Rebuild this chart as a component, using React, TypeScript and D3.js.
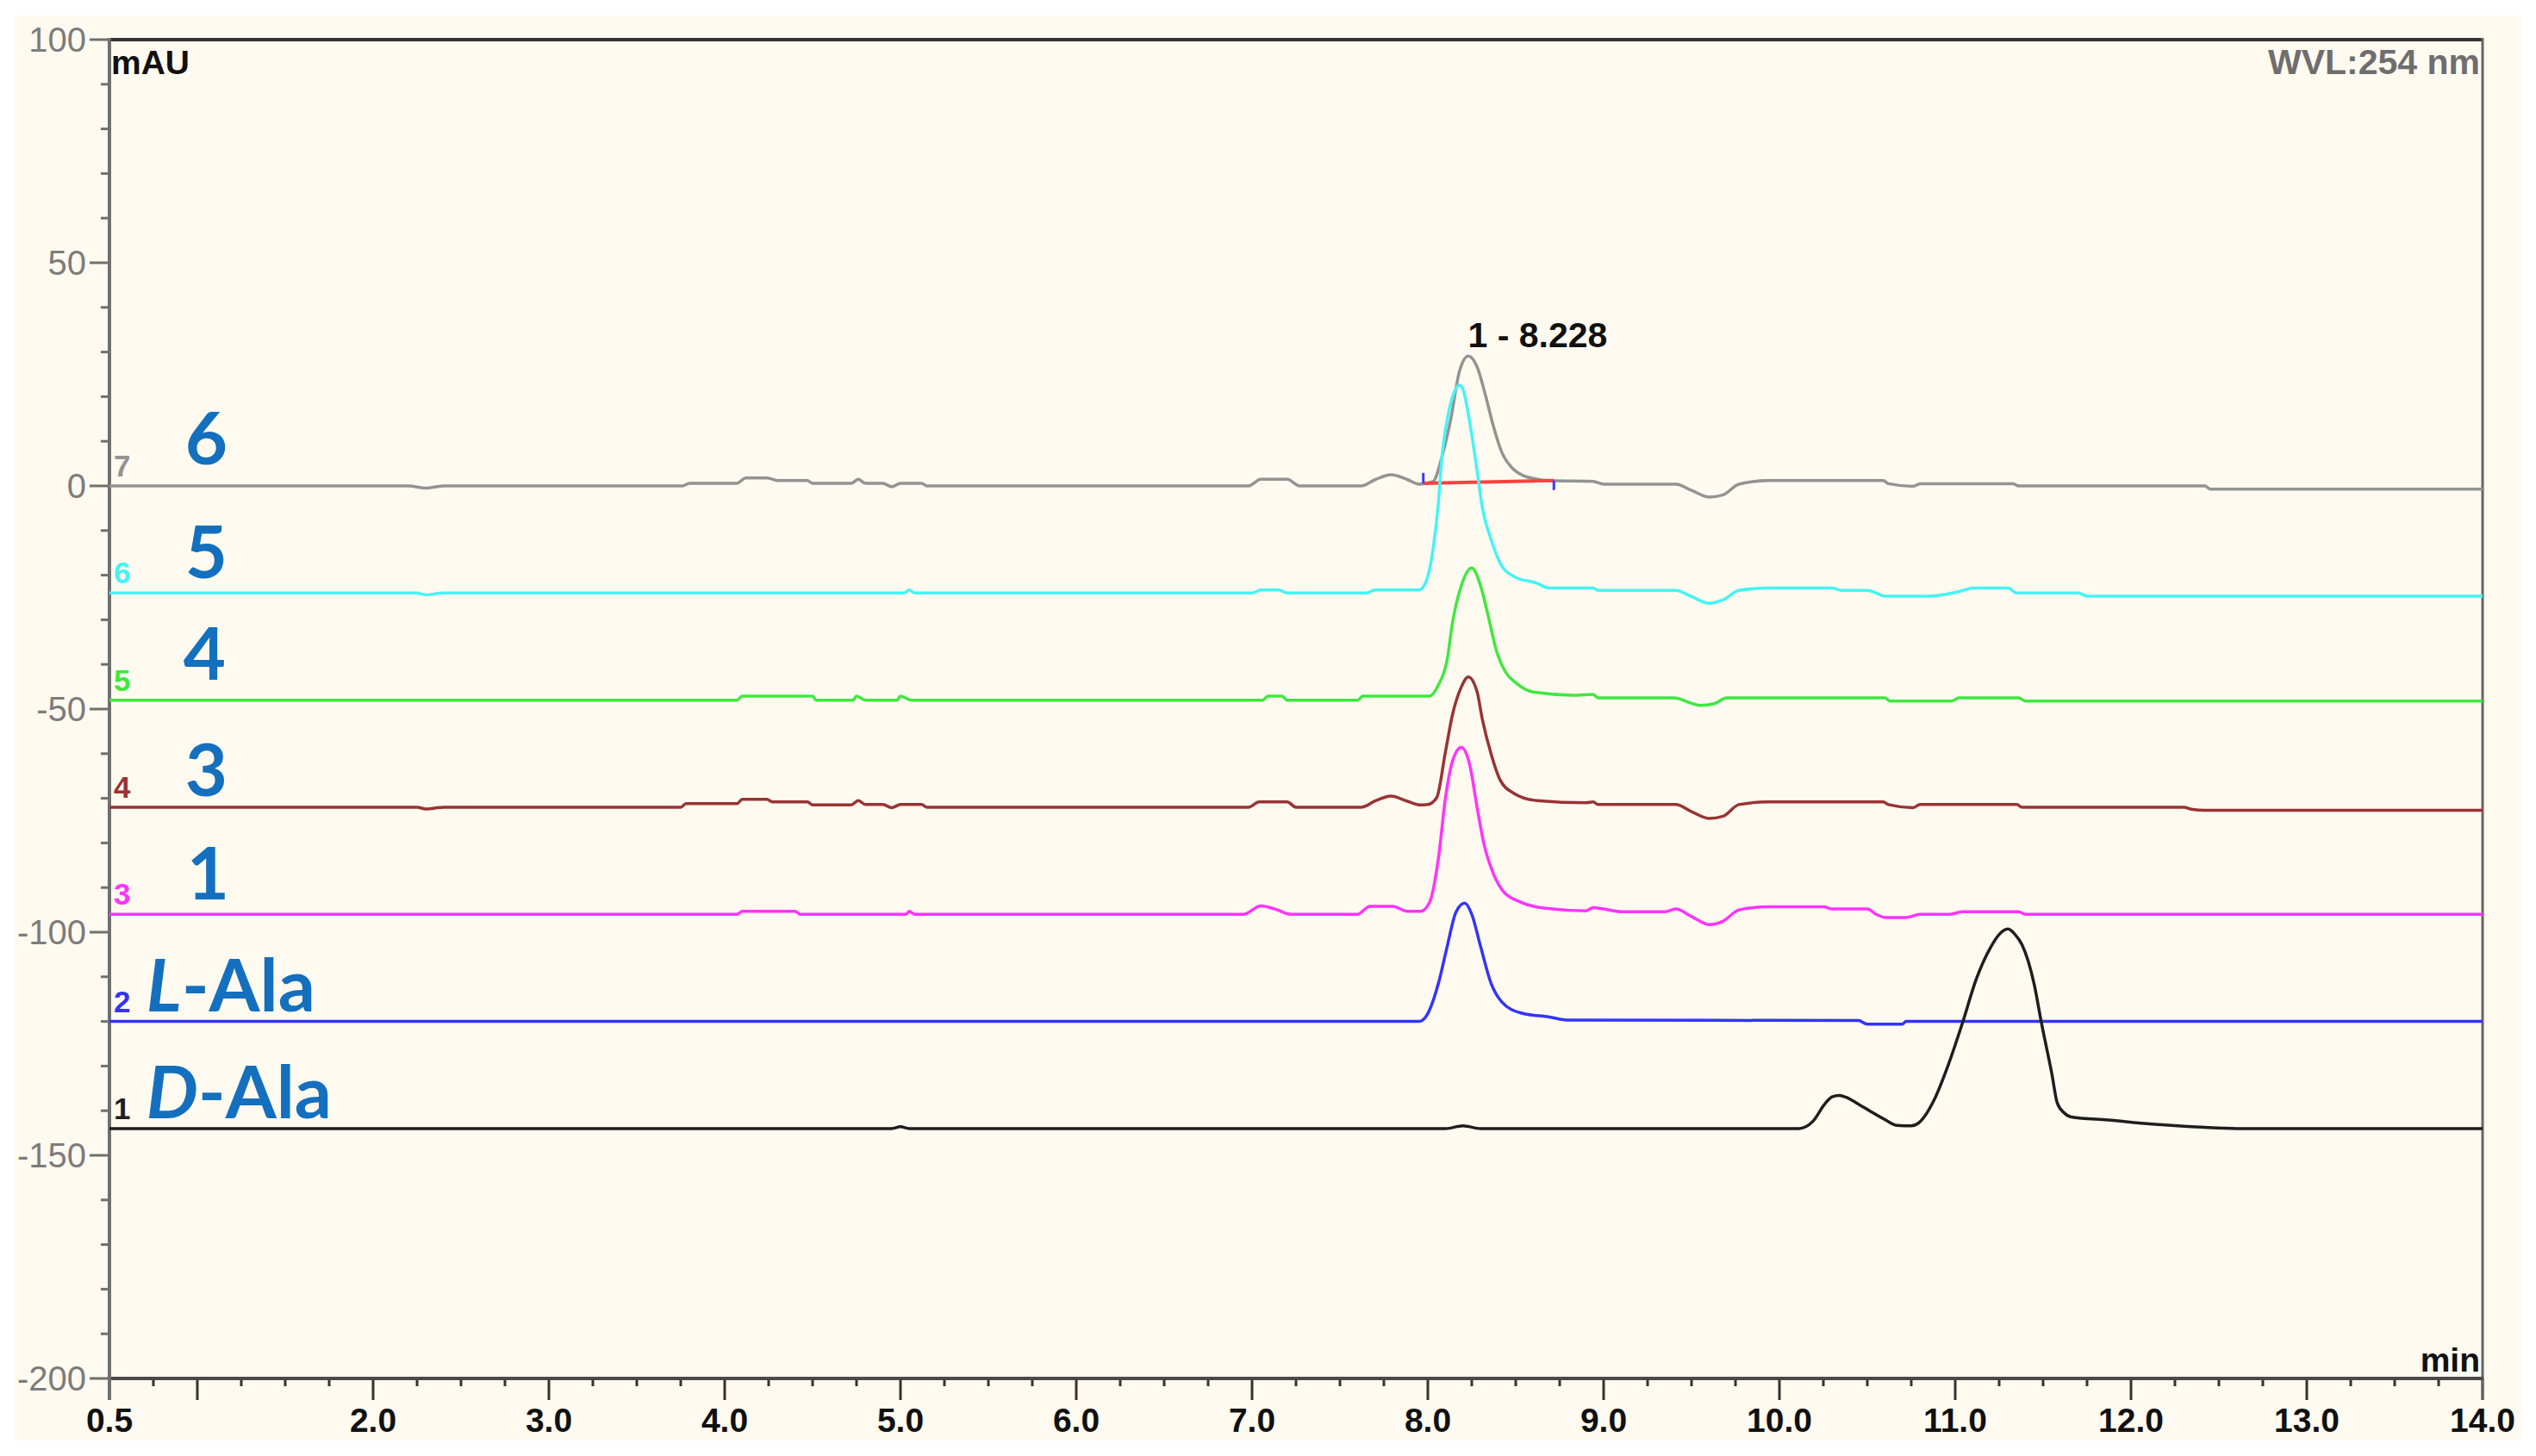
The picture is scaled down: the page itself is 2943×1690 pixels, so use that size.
import React from "react";
import * as d3 from "d3";

// ---------- data ----------
const traceIds = ["7", "6", "5", "4", "3", "2", "1"];
const traceOffsets = [0, -24, -48, -72, -96, -120, -144];

const trace7: [number, number][] = [
  [0.5, 0], [2.2, 0], [2.3, -0.5], [2.4, 0], [3.76, 0], [3.8, 0.6], [4.07, 0.6], [4.12, 1.8], [4.24, 1.8], [4.3, 1.2],
  [4.47, 1.2], [4.5, 0.6], [4.72, 0.6], [4.76, 1.5], [4.8, 0.6], [4.9, 0.6], [4.95, -0.2], [5.0, 0.6], [5.12, 0.6], [5.15, 0],
  [6.98, 0], [7.05, 1.5], [7.2, 1.5], [7.27, 0], [7.62, 0], [7.7, 1.4], [7.79, 2.5], [7.88, 1.5], [7.95, 0.4], [8.03, 1.0],
  [8.08, 6.5], [8.13, 14.9], [8.18, 25.7], [8.23, 29.1], [8.28, 26.7], [8.33, 20], [8.37, 13.8], [8.42, 7.6], [8.48, 4],
  [8.55, 2.2], [8.61, 1.6], [8.69, 1.2], [8.94, 1.0], [9.0, 0.4], [9.41, 0.4], [9.5, -1.0], [9.6, -2.5], [9.68, -2.0],
  [9.77, 0.4], [9.94, 1.2], [10.59, 1.2], [10.62, 0.5], [10.76, -0.1], [10.8, 0.5], [11.02, 0.5], [11.33, 0.5], [11.36, 0],
  [12.42, 0], [12.45, -0.7], [14.0, -0.7],
];

const trace6: [number, number][] = [
  [0.5, 0], [2.25, 0], [2.3, -0.4], [2.4, 0], [5.02, 0], [5.05, 0.7], [5.08, 0], [7.0, 0], [7.05, 0.7], [7.15, 0.7], [7.2, 0],
  [7.65, 0], [7.7, 0.7], [7.95, 0.7], [7.99, 2.6], [8.03, 9.9], [8.06, 20.2], [8.08, 30.5], [8.11, 38.8], [8.15, 45],
  [8.18, 46.6], [8.2, 45.6], [8.24, 37.8], [8.28, 27.4], [8.31, 19.1], [8.36, 12], [8.41, 6.8], [8.49, 3.7], [8.62, 2.2],
  [8.69, 1.1], [8.94, 1.1], [8.97, 0.6], [9.41, 0.6], [9.5, -0.8], [9.6, -2.3], [9.68, -1.5], [9.77, 0.6], [9.94, 1.1],
  [10.3, 1.1], [10.35, 0.6], [10.5, 0.6], [10.55, 0], [10.6, -0.7], [10.85, -0.7], [11.02, 0.3], [11.1, 1.1], [11.3, 1.1],
  [11.35, 0], [11.7, 0], [11.75, -0.7], [14.0, -0.7],
];

const trace5: [number, number][] = [
  [0.5, 0], [4.07, 0], [4.1, 0.9], [4.5, 0.9], [4.52, 0], [4.73, 0], [4.75, 0.9], [4.8, 0], [4.98, 0], [5.0, 0.9], [5.06, 0],
  [7.06, 0], [7.09, 0.9], [7.17, 0.9], [7.2, 0], [7.6, 0], [7.63, 0.9], [8.01, 0.9], [8.06, 3.4], [8.11, 9.1], [8.14, 17.3],
  [8.19, 25.6], [8.25, 29.6], [8.3, 25.6], [8.34, 19.4], [8.39, 11.1], [8.44, 6.4], [8.5, 3.9], [8.6, 1.8], [8.83, 1.1],
  [8.94, 1.3], [8.97, 0.5], [9.4, 0.5], [9.5, -0.7], [9.55, -1.2], [9.63, -0.8], [9.7, 0.5], [10.6, 0.5], [10.63, -0.2],
  [10.98, -0.2], [11.02, 0.5], [11.36, 0.5], [11.4, -0.2], [14.0, -0.2],
];

const trace4: [number, number][] = [
  [0.5, 0], [2.25, 0], [2.3, -0.4], [2.4, 0], [3.75, 0], [3.78, 0.8], [4.07, 0.8], [4.1, 1.8], [4.24, 1.8], [4.27, 1.2],
  [4.47, 1.2], [4.5, 0.5], [4.72, 0.5], [4.76, 1.5], [4.8, 0.6], [4.9, 0.6], [4.95, -0.1], [5.0, 0.6], [5.12, 0.6], [5.15, 0],
  [6.98, 0], [7.04, 1.2], [7.2, 1.2], [7.25, 0], [7.62, 0], [7.7, 1.4], [7.79, 2.5], [7.88, 1.4], [7.96, 0.5], [8.0, 0.6],
  [8.05, 2.1], [8.1, 12.4], [8.14, 20.7], [8.19, 26.9], [8.23, 29.2], [8.28, 25.9], [8.31, 19.7], [8.36, 11.9], [8.41, 6.2],
  [8.49, 3.1], [8.62, 1.5], [8.9, 1.0], [8.94, 1.2], [8.97, 0.6], [9.41, 0.6], [9.5, -1.0], [9.6, -2.5], [9.68, -2.0],
  [9.77, 0.6], [9.94, 1.2], [10.59, 1.2], [10.62, 0.6], [10.76, -0.1], [10.8, 0.6], [11.02, 0.6], [11.35, 0.6], [11.38, 0],
  [12.3, 0], [12.35, -0.5], [12.42, -0.7], [14.0, -0.7],
];

const trace3: [number, number][] = [
  [0.5, 0], [4.07, 0], [4.1, 0.7], [4.4, 0.7], [4.43, 0], [5.03, 0], [5.05, 0.7], [5.08, 0], [6.95, 0], [7.05, 1.9],
  [7.13, 1.2], [7.22, 0], [7.6, 0], [7.67, 1.8], [7.8, 1.8], [7.88, 0.7], [7.96, 0.7], [8.01, 2.7], [8.06, 12.5], [8.1, 26],
  [8.14, 34.3], [8.19, 37.4], [8.24, 33.2], [8.28, 24], [8.32, 15.6], [8.37, 9.4], [8.43, 5.1], [8.53, 2.7], [8.66, 1.4],
  [8.9, 0.8], [8.94, 1.5], [9.0, 1.2], [9.1, 0.6], [9.35, 0.6], [9.41, 1.2], [9.5, -0.5], [9.6, -2.3], [9.68, -1.5],
  [9.77, 1.0], [9.94, 1.7], [10.25, 1.7], [10.3, 1.2], [10.5, 1.2], [10.55, 0], [10.6, -0.7], [10.72, -0.7], [10.8, 0],
  [10.97, 0], [11.04, 0.6], [11.36, 0.6], [11.4, 0], [14.0, 0],
];

const trace2: [number, number][] = [
  [0.5, 0], [7.95, 0], [8.0, 1.8], [8.06, 8.5], [8.11, 16.8], [8.16, 24.5], [8.21, 26.5], [8.25, 24], [8.3, 16.8],
  [8.36, 8.5], [8.42, 4.4], [8.53, 1.9], [8.69, 1.0], [8.8, 0.3], [10.45, 0.2], [10.5, -0.6], [10.7, -0.6], [10.72, 0],
  [14.0, 0],
];

const trace1: [number, number][] = [
  [0.5, 0], [4.95, 0], [5.0, 0.4], [5.05, 0], [8.1, 0], [8.2, 0.6], [8.3, 0], [10.11, 0], [10.19, 1.6], [10.26, 5.6],
  [10.3, 7.1], [10.34, 7.4], [10.38, 7.0], [10.44, 5.7], [10.52, 3.8], [10.6, 2.0], [10.67, 0.7], [10.75, 0.6], [10.79, 1.2],
  [10.88, 6.4], [10.96, 14.2], [11.04, 23.5], [11.12, 33.5], [11.2, 40.5], [11.25, 43.5], [11.3, 44.7], [11.34, 43.5],
  [11.38, 41.2], [11.45, 32.2], [11.49, 23.8], [11.55, 12.2], [11.58, 5.8], [11.62, 3.5], [11.66, 2.6], [11.87, 1.9],
  [12.12, 1.0], [12.4, 0.3], [12.6, 0], [14.0, 0],
];

const traceData = [trace7, trace6, trace5, trace4, trace3, trace2, trace1];

// sample labels: text, time, value anchor (bottom-left)
const sampleLabels = ["6", "5", "4", "3", "1", "L-Ala", "D-Ala"];
const sampleLabelTimes = [0.93, 0.93, 0.92, 0.93, 0.94, 0.71, 0.71];
const sampleLabelValues = [4.8, -20.7, -43.4, -69.5, -92.7, -117.8, -141.7];

const yMajorTicks = [100, 50, 0, -50, -100, -150, -200];
const yMinorTicks = d3.range(-190, 100, 10).filter((v) => v % 50 !== 0);
const xLabelTicks = [0.5, 2.0, 3.0, 4.0, 5.0, 6.0, 7.0, 8.0, 9.0, 10.0, 11.0, 12.0, 13.0, 14.0];
const xUnlabeledMajor = [1.0];
const xMinorTicks = d3.range(0.75, 14, 0.25).filter((v) => Math.abs(v - Math.round(v)) > 0.01);

const peakLabel = "1 - 8.228";
const peakTime = 8.228;
const peakValue = 29.1;
const integrationStart: [number, number] = [7.974, 0.6];
const integrationEnd: [number, number] = [8.717, 1.2];

// ---------- styles ----------
const traceColors = ["#939393", "#44f4f4", "#3fe83f", "#993333", "#ff33ff", "#3333ff", "#1e1e1e"];
const labelBlue = "#1470be";
const axisFont = "'Liberation Sans', Arial, sans-serif";
const labelFont = "Lato, 'Open Sans', sans-serif";

export default function App() {
  const W = 2943;
  const H = 1690;
  const x = d3.scaleLinear().domain([0.5, 14]).range([127, 2881]);
  const y = d3.scaleLinear().domain([-200, 100]).range([1600, 46]);
  const line = d3
    .line<[number, number]>()
    .x((d) => x(d[0]))
    .y((d) => y(d[1]))
    .curve(d3.curveMonotoneX);

  const paths = traceData.map((pts, i) => line(pts.map((p) => [p[0], p[1] + traceOffsets[i]] as [number, number])) || "");

  const x0 = x(0.5);
  const x1 = x(14);
  const yTop = y(100);
  const yBot = y(-200);

  return (
    <div style={{ position: "absolute", left: 0, top: 0, width: W, height: H, background: "#ffffff" }}>
      <svg width={W} height={H} viewBox={`0 0 ${W} ${H}`} style={{ display: "block" }}>
        <rect x={0} y={0} width={W} height={H} fill="#ffffff" />
        <rect x={17} y={18} width={2910} height={1654} fill="#fffaf0" />

        {/* y ticks */}
        {yMinorTicks.map((v) => (
          <line key={"ym" + v} x1={x0 - 10} x2={x0} y1={y(v)} y2={y(v)} stroke="#707070" strokeWidth={3} />
        ))}
        {yMajorTicks.map((v) => (
          <g key={"yM" + v}>
            <line x1={x0 - 23} x2={x0} y1={y(v)} y2={y(v)} stroke="#707070" strokeWidth={3} />
            <text
              x={x0 - 27}
              y={y(v)}
              dy="0.36em"
              textAnchor="end"
              fontFamily={axisFont}
              fontSize={40}
              fill="#7c7c7c"
            >
              {v}
            </text>
          </g>
        ))}

        {/* x ticks */}
        {xMinorTicks.map((t) => (
          <line key={"xm" + t} x1={x(t)} x2={x(t)} y1={yBot} y2={yBot + 9} stroke="#333" strokeWidth={3} />
        ))}
        {[...xLabelTicks, ...xUnlabeledMajor].map((t) => (
          <line key={"xM" + t} x1={x(t)} x2={x(t)} y1={yBot} y2={yBot + 25} stroke="#333" strokeWidth={3} />
        ))}
        {xLabelTicks.map((t) => (
          <text
            key={"xl" + t}
            x={x(t)}
            y={1662}
            textAnchor="middle"
            fontFamily={axisFont}
            fontWeight="bold"
            fontSize={39}
            fill="#111"
          >
            {t.toFixed(1)}
          </text>
        ))}

        {/* frame */}
        <line x1={x0} x2={x1} y1={yTop} y2={yTop} stroke="#333" strokeWidth={4} />
        <line x1={x1} x2={x1} y1={yTop - 2} y2={yBot + 25} stroke="#666" strokeWidth={3} />
        <line x1={x0} x2={x1 + 1} y1={yBot} y2={yBot} stroke="#4a4a4a" strokeWidth={4} />
        <line x1={x0} x2={x0} y1={yTop - 2} y2={yBot + 25} stroke="#707070" strokeWidth={4} />

        {/* traces */}
        {paths.map((d, i) => (
          <g key={"tr" + i}>
            <path d={d} fill="none" stroke={traceColors[i]} strokeWidth={3.5} strokeLinejoin="round" />
            {i === 0 && (
              <g>
                <line
                  x1={x(integrationStart[0])}
                  y1={y(integrationStart[1])}
                  x2={x(integrationEnd[0])}
                  y2={y(integrationEnd[1])}
                  stroke="#ff4040"
                  strokeWidth={4}
                />
                <line
                  x1={x(integrationStart[0])}
                  x2={x(integrationStart[0])}
                  y1={y(integrationStart[1])}
                  y2={y(integrationStart[1]) - 12}
                  stroke="#3b3bff"
                  strokeWidth={3}
                />
                <line
                  x1={x(integrationEnd[0])}
                  x2={x(integrationEnd[0])}
                  y1={y(integrationEnd[1])}
                  y2={y(integrationEnd[1]) + 11}
                  stroke="#3b3bff"
                  strokeWidth={3}
                />
              </g>
            )}
          </g>
        ))}

        {/* trace index labels */}
        {traceIds.map((id, i) => (
          <text
            key={"id" + id}
            x={x0 + 5}
            y={y(traceOffsets[i]) - 11}
            fontFamily={axisFont}
            fontWeight="bold"
            fontSize={35}
            fill={traceColors[i]}
          >
            {id}
          </text>
        ))}

        {/* sample labels */}
        {sampleLabels.map((lab, i) => {
          const italic = lab.includes("-Ala");
          return (
            <text
              key={"sl" + i}
              x={x(sampleLabelTimes[i])}
              y={y(sampleLabelValues[i])}
              fontFamily={labelFont}
              fontWeight="bold"
              fontSize={85}
              fill={labelBlue}
            >
              {italic ? (
                <>
                  <tspan fontStyle="italic">{lab.slice(0, 1)}</tspan>
                  <tspan>{lab.slice(1)}</tspan>
                </>
              ) : (
                lab
              )}
            </text>
          );
        })}

        {/* peak annotation */}
        <text
          x={x(peakTime)}
          y={y(peakValue) - 10}
          fontFamily={axisFont}
          fontWeight="bold"
          fontSize={41}
          fill="#111"
        >
          {peakLabel}
        </text>

        {/* axis titles */}
        <text x={x0 + 2} y={86} fontFamily={axisFont} fontWeight="bold" fontSize={39} fill="#111">
          mAU
        </text>
        <text x={x1 - 3} y={86} textAnchor="end" fontFamily={axisFont} fontWeight="bold" fontSize={41} fill="#6e6e6e">
          WVL:254 nm
        </text>
        <text x={x1 - 3} y={1592} textAnchor="end" fontFamily={axisFont} fontWeight="bold" fontSize={39} fill="#111">
          min
        </text>
      </svg>
    </div>
  );
}
